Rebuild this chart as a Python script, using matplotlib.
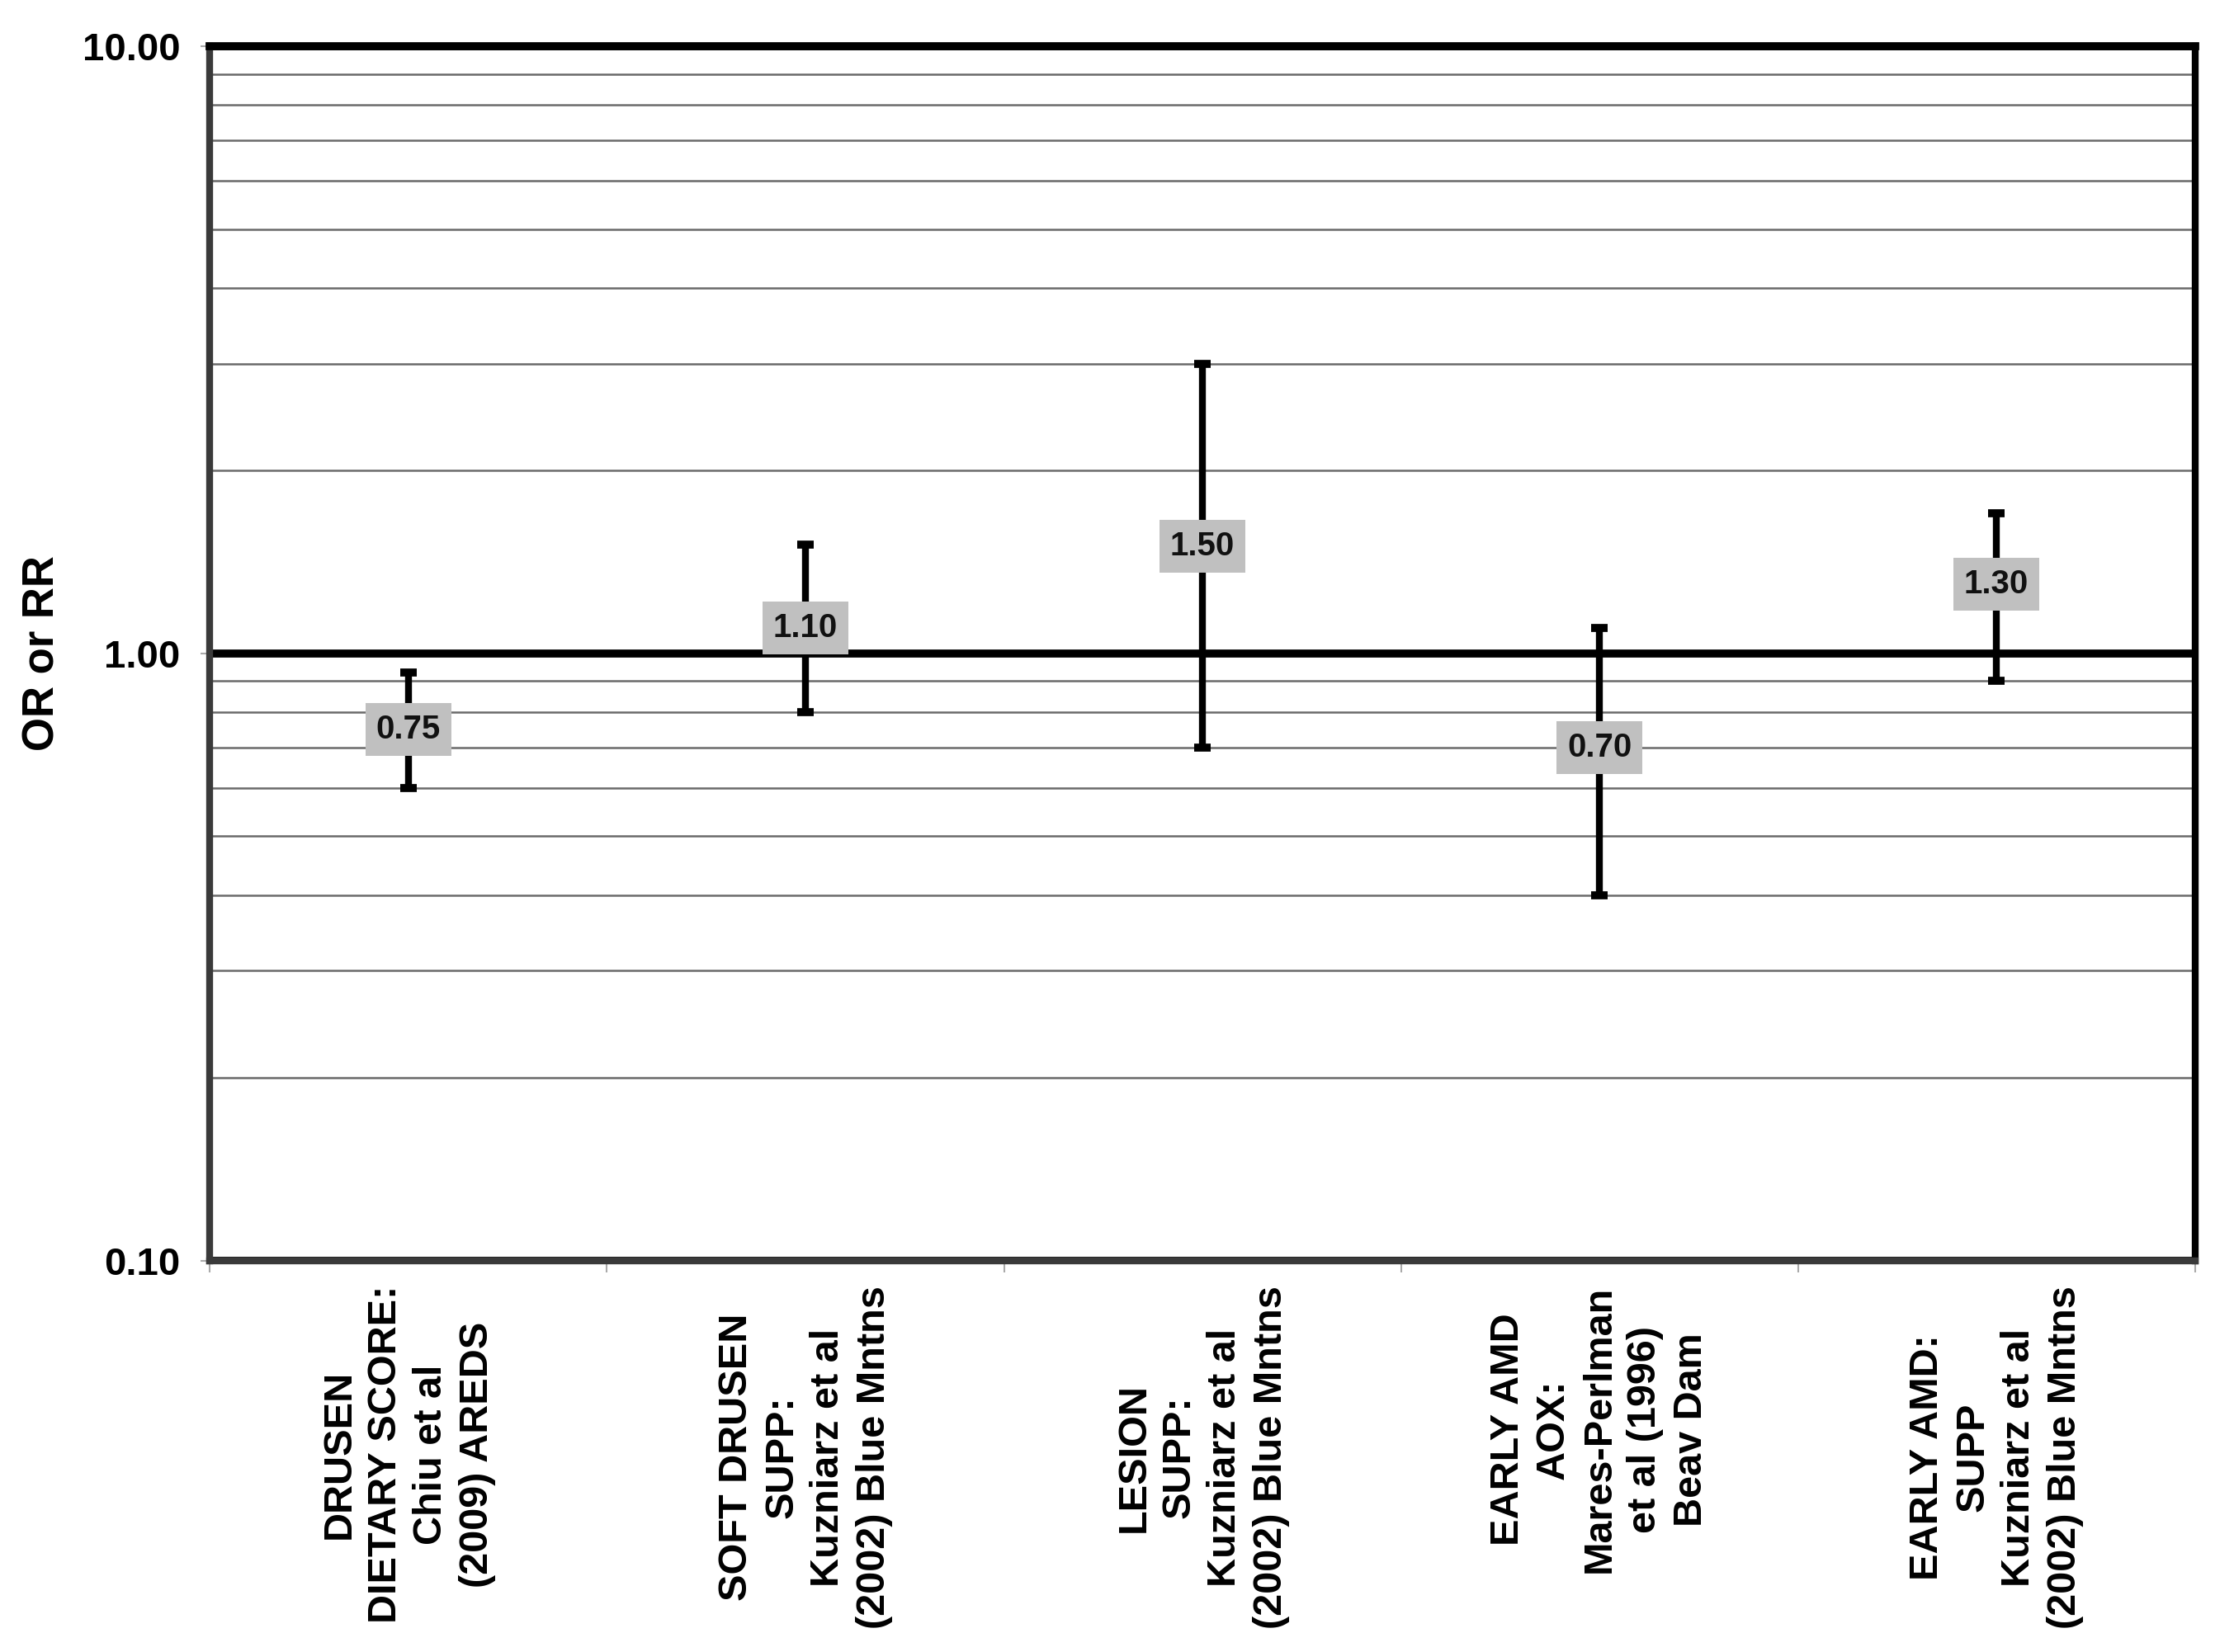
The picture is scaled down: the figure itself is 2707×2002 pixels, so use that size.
import matplotlib
matplotlib.use("Agg")
import matplotlib.pyplot as plt
import numpy as np
from matplotlib.ticker import LogLocator, NullFormatter

plt.rcParams['font.family'] = ['Liberation Sans', 'DejaVu Sans']
plt.rcParams['font.weight'] = 'bold'

categories = [
    "DRUSEN\nDIETARY SCORE:\nChiu et al\n(2009) AREDS",
    "SOFT DRUSEN\nSUPP:\nKuzniarz et al\n(2002) Blue Mntns",
    "LESION\nSUPP:\nKuzniarz et al\n(2002) Blue Mntns",
    "EARLY AMD\nAOX:\nMares-Perlman\net al (1996)\nBeav Dam",
    "EARLY AMD:\nSUPP\nKuzniarz et al\n(2002) Blue Mntns",
]
estimate = [0.75, 1.10, 1.50, 0.70, 1.30]
ci_low = [0.60, 0.80, 0.70, 0.40, 0.90]
ci_high = [0.93, 1.51, 3.00, 1.10, 1.70]
ytick_vals = [0.1, 1.0, 10.0]
ytick_labels = ["0.10", "1.00", "10.00"]

fig = plt.figure(figsize=(27.07, 20.02), dpi=100)
ax = fig.add_axes([0.094, 0.237, 0.8885, 0.735])

x = np.arange(len(categories)) + 0.5
est = np.array(estimate)
yerr = np.vstack([est - np.array(ci_low), np.array(ci_high) - est])

ax.set_yscale('log')
ax.set_ylim(0.1, 10)
ax.set_xlim(0, len(categories))

# grid
ax.yaxis.set_minor_locator(LogLocator(base=10, subs=np.arange(2, 10)))
ax.yaxis.set_minor_formatter(NullFormatter())
ax.set_yticks(ytick_vals)
ax.set_yticklabels(ytick_labels)
ax.grid(True, axis='y', which='minor', color='#6a6a6a', linewidth=1.8)
ax.grid(True, axis='y', which='major', color='black', linewidth=7)
ax.set_axisbelow(True)

ax.errorbar(x, est, yerr=yerr, fmt='none', ecolor='black', elinewidth=6,
            capsize=7, capthick=7, zorder=3)

for xi, v in zip(x, estimate):
    ax.text(xi, v, f"{v:.2f}", ha='center', va='center', fontsize=29,
            fontweight='bold', color='#111111', zorder=4,
            bbox=dict(boxstyle='square,pad=0.32', facecolor='#c0c0c0',
                      edgecolor='none'))

# x ticks at band boundaries, labels at centers
ax.set_xticks(np.arange(len(categories) + 1))
ax.set_xticklabels([])
ax.tick_params(axis='x', which='major', length=10, width=1.5, color='#aaaaaa',
               direction='out')
ax.set_xticks(x, minor=True)
ax.set_xticklabels(categories, minor=True, rotation=90, fontsize=35,
                   fontweight='bold', multialignment='center', va='top',
                   ha='center', linespacing=1.3)
ax.tick_params(axis='x', which='minor', length=0, pad=22)
ax.tick_params(axis='y', which='major', length=8, width=1.5, color='#aaaaaa',
               labelsize=34, pad=18)
ax.tick_params(axis='y', which='minor', length=0)
for lbl in ax.get_yticklabels():
    lbl.set_fontweight('bold')

ax.set_ylabel("OR or RR", fontsize=38, fontweight='bold')
ax.yaxis.set_label_coords(-0.074, 0.5)

ax.spines['left'].set_color('#3a3a3a')
ax.spines['left'].set_linewidth(6)
ax.spines['bottom'].set_color('#3a3a3a')
ax.spines['bottom'].set_linewidth(6)
ax.spines['right'].set_color('black')
ax.spines['right'].set_linewidth(6)
ax.spines['top'].set_color('black')
ax.spines['top'].set_linewidth(7)
for s in ax.spines.values():
    s.set_zorder(5)

fig.savefig("out.png", dpi=100, facecolor='white')
